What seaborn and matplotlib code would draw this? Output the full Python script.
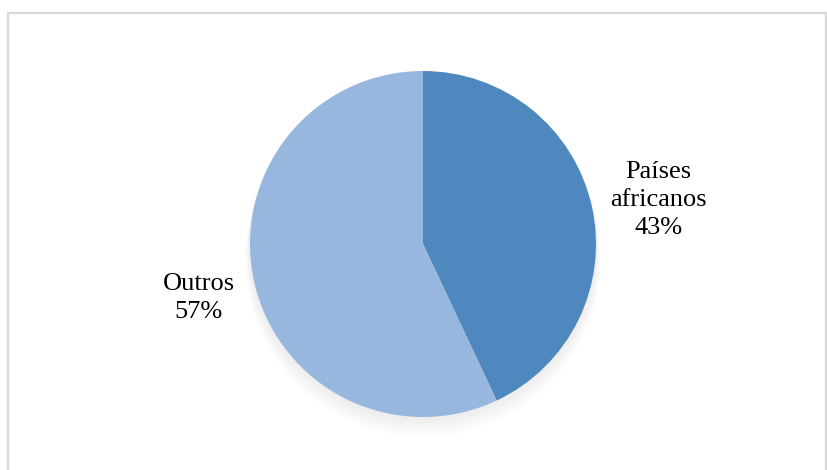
import numpy as np
import matplotlib
matplotlib.use("Agg")
from matplotlib import pyplot as plt
from matplotlib.patches import Rectangle, Circle
import seaborn as sns

labels = ["Países\nafricanos", "Outros"]
shares = [43, 57]
colors = ["#4F88BE", "#97B7DE"]


def main():
    sns.set_theme(style="white")
    plt.rcParams['font.family'] = ['Liberation Serif', 'DejaVu Serif']

    fig = plt.figure(figsize=(8.27, 4.70), dpi=100)
    fig.patch.set_facecolor("white")

    # light grey chart border (bottom runs off the image)
    fig.patches.append(Rectangle((7.5 / 827, -0.05), (826 - 7.5) / 827, 1.05 - 13.5 / 470,
                                 transform=fig.transFigure, fill=False,
                                 edgecolor="#d9d9d9", linewidth=1.6))

    cx, cy, r = 423, 470 - 244, 173
    ax = fig.add_axes([(cx - r) / 827, (cy - r) / 470, 2 * r / 827, 2 * r / 470])

    # soft shadow under the pie
    for i in range(10):
        ax.add_patch(Circle((0.0, -0.01 * i), 1.0 + 0.003 * i, color="black",
                            alpha=0.008, lw=0, zorder=0, clip_on=False))

    wedges, _ = ax.pie(shares, colors=colors, startangle=90, counterclock=False,
                       radius=1, wedgeprops=dict(linewidth=0), frame=False)
    for w in wedges:
        w.set_zorder(2)

    # label distance from centre and small nudge (x, y) in radius units
    dist = [1.42, 1.33]
    nudge = [(-0.025, -0.055), (0.0, -0.02)]
    for w, lab, val, d, (nx, ny) in zip(wedges, labels, shares, dist, nudge):
        mid = np.deg2rad((w.theta1 + w.theta2) / 2)
        ax.text(d * np.cos(mid) + nx, d * np.sin(mid) + ny, f"{lab}\n{val}%",
                ha="center", va="center", fontsize=19, color="black",
                linespacing=1.35)

    ax.set_xlim(-1, 1)
    ax.set_ylim(-1, 1)
    ax.set_aspect("equal")
    ax.axis("off")

    fig.savefig("out.png", dpi=100, facecolor="white")


if __name__ == "__main__":
    main()
